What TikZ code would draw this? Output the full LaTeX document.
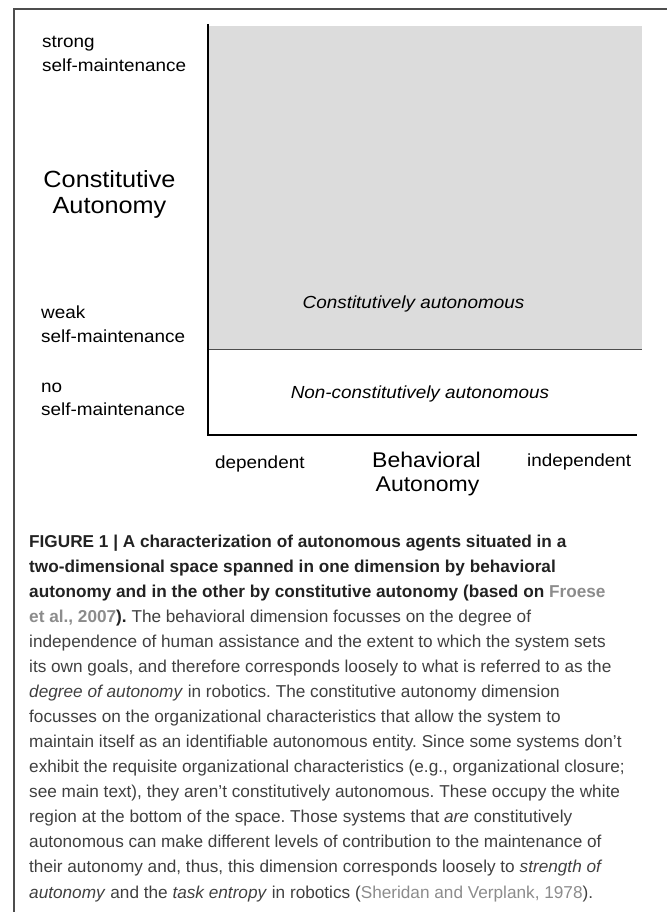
\documentclass[tikz,border=0pt]{standalone}
\usepackage{fontspec}
\setmainfont{Liberation Sans}
\newfontfamily\figfont[FakeStretch=1.08]{Liberation Sans}
\definecolor{graybox}{HTML}{DCDCDC}
\definecolor{framecol}{HTML}{4D4D4D}
\definecolor{captitle}{HTML}{222222}
\definecolor{capbody}{HTML}{404040}
\definecolor{caplink}{HTML}{8C8C8C}
\frenchspacing

\begin{document}
\begin{tikzpicture}[x=1pt,y=-1pt,
  lbl/.style={font={\figfont\fontsize{17.5}{20}\selectfont},inner sep=0pt,anchor=base west},
  midlbl/.style={lbl,anchor=base},
  axlbl/.style={font={\figfont\fontsize{23.4}{26}\selectfont},inner sep=0pt,anchor=base},
  bxlbl/.style={font={\figfont\fontsize{21.3}{24}\selectfont},inner sep=0pt,anchor=base},
  capline/.style={font={\fontsize{17.2}{25}\selectfont},text=capbody,inner sep=0pt,anchor=base west}]
\useasboundingbox(0,0)rectangle(667,912);
\coordinate(FB)at(14,912);
\coordinate(FT)at(14,9);
\coordinate(FR)at(667,9);
\coordinate(O)at(208,435);
\coordinate(Y)at(208,24);
\coordinate(X)at(637,435);
\coordinate(GA)at(209,26);
\coordinate(GB)at(642,349);
\coordinate(SL)at(209,349);
\draw[framecol,line width=1.3pt](FB)--(FT)--(FR);
\fill[graybox](GA)rectangle(GB);
\draw[framecol,line width=0.9pt](SL)--(GB);
\draw[line width=2.2pt,line join=miter](Y)--(O)--(X);
\node[lbl](strong)at(42,48){strong};
\node[lbl](strongsm)at(42,72){self-maintenance};
\node[axlbl](cons)at(109.5,188){Constitutive};
\node[axlbl](consaut)at(109.5,213){Autonomy};
\node[lbl](weak)at(41,318){weak};
\node[lbl](weaksm)at(41,342){self-maintenance};
\node[lbl](no)at(41,392){no};
\node[lbl](nosm)at(41,415){self-maintenance};
\node[midlbl,font={\figfont\itshape\fontsize{17.5}{20}\selectfont}](ca)at(413.5,308){Constitutively autonomous};
\node[midlbl,font={\figfont\itshape\fontsize{17.5}{20}\selectfont}](nca)at(420,398){Non-constitutively autonomous};
\node[lbl](dep)at(215,468){dependent};
\node[bxlbl](beh)at(426.5,467){Behavioral};
\node[bxlbl](behaut)at(427.5,491){Autonomy};
\node[lbl](indep)at(527,466){independent};
\node[capline](cap1)at(29,547){\bfseries\color{captitle}FIGURE 1 | A characterization of autonomous agents situated in a};
\node[capline](cap2)at(29,572.1){\bfseries\color{captitle}two-dimensional space spanned in one dimension by behavioral};
\node[capline](cap3)at(29,597.1){\bfseries\color{captitle}autonomy and in the other by constitutive autonomy (based on \textcolor{caplink}{Froese}};
\node[capline](cap4)at(29,622.2){{\bfseries\textcolor{caplink}{et al., 2007}\textcolor{captitle}{).}} The behavioral dimension focusses on the degree of};
\node[capline](cap5)at(29,647.3){independence of human assistance and the extent to which the system sets};
\node[capline](cap6)at(29,672.3){its own goals, and therefore corresponds loosely to what is referred to as the};
\node[capline](cap7)at(29,697.4){\textit{degree of autonomy} in robotics. The constitutive autonomy dimension};
\node[capline](cap8)at(29,722.5){focusses on the organizational characteristics that allow the system to};
\node[capline](cap9)at(29,747.6){maintain itself as an identifiable autonomous entity. Since some systems don’t};
\node[capline](cap10)at(29,772.6){exhibit the requisite organizational characteristics (e.g., organizational closure;};
\node[capline](cap11)at(29,797.7){see main text), they aren’t constitutively autonomous. These occupy the white};
\node[capline](cap12)at(29,822.8){region at the bottom of the space. Those systems that \textit{are} constitutively};
\node[capline](cap13)at(29,847.8){autonomous can make different levels of contribution to the maintenance of};
\node[capline](cap14)at(29,872.9){their autonomy and, thus, this dimension corresponds loosely to \textit{strength of}};
\node[capline](cap15)at(29,898){\textit{autonomy} and the \textit{task entropy} in robotics (\textcolor{caplink}{Sheridan and Verplank, 1978}).};
\end{tikzpicture}
\end{document}
